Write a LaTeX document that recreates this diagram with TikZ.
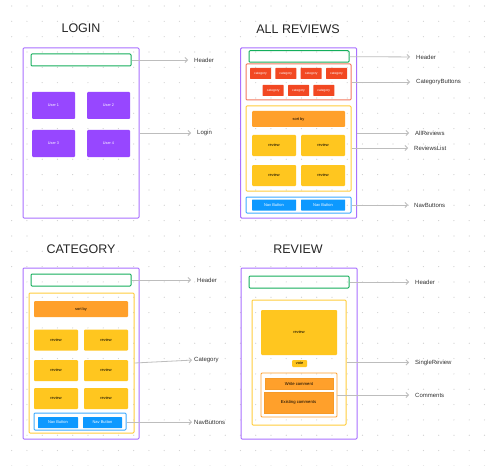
\documentclass[tikz,border=0pt]{standalone}
\usepackage{fontspec}
\setmainfont{Liberation Sans}
\usetikzlibrary{arrows.meta}

\definecolor{framepurple}{HTML}{A970FF}
\definecolor{userpurple}{HTML}{9747FF}
\definecolor{hdrgreen}{HTML}{14AE5C}
\definecolor{catred}{HTML}{F24822}
\definecolor{catline}{HTML}{F3785E}
\definecolor{sortorange}{HTML}{FFA02B}
\definecolor{revyellow}{HTML}{FFC61F}
\definecolor{revline}{HTML}{FFCD3C}
\definecolor{navblue}{HTML}{0D99FF}
\definecolor{navline}{HTML}{3DAAFF}
\definecolor{arrowgray}{HTML}{BDBDBD}
\definecolor{dotgray}{HTML}{CFCFCF}
\definecolor{labeltext}{HTML}{333333}

\begin{document}
\begin{tikzpicture}[x=1pt, y=-1pt]
			%define block styles
			\tikzset{
				title/.style={font=\fontsize{12.5}{14}\selectfont, text=black!85, inner sep=0pt},
				frame/.style={draw=framepurple, line width=1pt, rounded corners=1pt, inner sep=0pt},
				header/.style={draw=hdrgreen, line width=1pt, rounded corners=1pt, inner sep=0pt},
				userbox/.style={fill=userpurple, rounded corners=1pt, text=white, font=\fontsize{3.8}{4}\selectfont, inner sep=0pt},
				catgroup/.style={draw=catline, line width=1pt, rounded corners=1pt, inner sep=0pt},
				catbtn/.style={fill=catred, rounded corners=0.5pt, text=white, font=\fontsize{3.3}{4}\selectfont, inner sep=0pt, minimum width=21pt, minimum height=11pt},
				revgroup/.style={draw=revline, line width=1pt, rounded corners=1pt, inner sep=0pt},
				sortbar/.style={fill=sortorange, rounded corners=1pt, font=\fontsize{3.9}{4}\selectfont, inner sep=0pt, minimum height=16pt},
				reviewbox/.style={fill=revyellow, rounded corners=1pt, font=\fontsize{3.9}{4}\selectfont, inner sep=0pt, minimum width=44pt, minimum height=21pt},
				navgroup/.style={draw=navline, line width=1pt, rounded corners=1pt, inner sep=0pt},
				navbtn/.style={fill=navblue, rounded corners=0.5pt, text=white, font=\fontsize{4}{4}\selectfont, inner sep=0pt, minimum height=11pt},
				comgroup/.style={draw=sortorange, line width=0.8pt, rounded corners=1pt, inner sep=0pt},
				combox/.style={fill=sortorange, draw=sortorange!80!black!20!sortorange, font=\fontsize{4.2}{5}\selectfont, inner sep=0pt},
				label/.style={anchor=west, inner sep=0pt, text=labeltext, font=\fontsize{6}{7}\selectfont},
				arrow/.style={draw=arrowgray, line width=0.8pt, shorten >=6pt, -{Straight Barb[length=2.5pt, width=5pt]}},
			}
			%background and dot grid
			\fill[white] (0,0) rectangle (486,465);
			\useasboundingbox (0,0) rectangle (486,465);
			\foreach \i in {0,...,31}
				\foreach \j in {0,...,30}
					\fill[dotgray] (11.7+15.25*\i, 6+15.33*\j) circle (0.6pt);

			%define nodes: login
			\node[title] (logintitle) at (81,28) {LOGIN};
			\node[frame, minimum width=116pt, minimum height=170pt] (loginframe) at (81,133) {};
			\node[header, minimum width=100pt, minimum height=12pt] (loginheader) at (81,60) {};
			\node[userbox, minimum width=43pt, minimum height=27pt] (user1) at (53.5,105.5) {User 1};
			\node[userbox, minimum width=43pt, minimum height=27pt] (user2) at (108.5,105.5) {User 2};
			\node[userbox, minimum width=43pt, minimum height=27pt] (user3) at (53.5,143.5) {User 3};
			\node[userbox, minimum width=43pt, minimum height=27pt] (user4) at (108.5,143.5) {User 4};
			\node[label] (loginheaderlbl) at (194,60) {Header};
			\node[label] (loginlbl) at (197,133) {Login};

			%define nodes: all reviews
			\node[title] (alltitle) at (298,29) {ALL REVIEWS};
			\node[frame, minimum width=116pt, minimum height=170pt] (allframe) at (298.7,133) {};
			\node[header, minimum width=100pt, minimum height=11.5pt] (allheader) at (299,56.5) {};
			\node[catgroup, minimum width=105pt, minimum height=36pt] (catgroup) at (298.5,82) {};
			\foreach \x [count=\k] in {260.5,285.8,311.2,336.5}
				\node[catbtn] (cat\k) at (\x,73.5) {category};
			\foreach \x [count=\k from 5] in {273.2,298.5,323.8}
				\node[catbtn] (cat\k) at (\x,90.5) {category};
			\node[revgroup, minimum width=105pt, minimum height=85pt] (allreviews) at (298.5,148.5) {};
			\node[sortbar, minimum width=93pt] (allsort) at (298.5,119) {sort by};
			\node[reviewbox] (allrev1) at (274,145.5) {review};
			\node[reviewbox] (allrev2) at (323,145.5) {review};
			\node[reviewbox] (allrev3) at (274,175.5) {review};
			\node[reviewbox] (allrev4) at (323,175.5) {review};
			\node[navgroup, minimum width=105pt, minimum height=16pt] (allnav) at (298.5,205) {};
			\node[navbtn, minimum width=44pt] (allnav1) at (274,205) {Nav Button};
			\node[navbtn, minimum width=44pt] (allnav2) at (323,205) {Nav Button};
			\node[label] (allheaderlbl) at (416,57) {Header};
			\node[label] (catbuttonslbl) at (416,82) {CategoryButtons};
			\node[label] (allreviewslbl) at (415,133) {AllReviews};
			\node[label] (reviewslistlbl) at (414,148) {ReviewsList};
			\node[label] (allnavlbl) at (414,205) {NavButtons};

			%define nodes: category
			\node[title] (cattitle) at (81,249) {CATEGORY};
			\node[frame, minimum width=116pt, minimum height=171pt] (catframe) at (81,353.5) {};
			\node[header, minimum width=100pt, minimum height=12pt] (catheader) at (81,280) {};
			\node[revgroup, minimum width=105pt, minimum height=140pt] (catreviews) at (81.5,363) {};
			\node[sortbar, minimum width=94pt] (catsort) at (81,309) {sort by};
			\foreach \y [count=\k] in {340,370.5,398.5} {
				\node[reviewbox] (catrev\k a) at (56,\y) {review};
				\node[reviewbox] (catrev\k b) at (106,\y) {review};
			}
			\node[navgroup, minimum width=92pt, minimum height=17pt] (catnav) at (80,421.5) {};
			\node[navbtn, minimum width=40pt] (catnav1) at (58,422.5) {Nav Button};
			\node[navbtn, minimum width=39pt] (catnav2) at (102.5,422.5) {Nav Button};
			\node[label] (catheaderlbl) at (197,280) {Header};
			\node[label] (categorylbl) at (194,360) {Category};
			\node[label] (catnavlbl) at (194,422) {NavButtons};

			%define nodes: review
			\node[title] (revtitle) at (298,249) {REVIEW};
			\node[frame, minimum width=116pt, minimum height=171pt] (revframe) at (299,353.5) {};
			\node[header, minimum width=100pt, minimum height=12pt] (revheader) at (299,282) {};
			\node[revgroup, minimum width=94pt, minimum height=125pt] (single) at (299,362.5) {};
			\node[reviewbox, minimum width=76pt, minimum height=45pt] (singlerev) at (299,332.5) {review};
			\node[reviewbox, minimum width=15pt, minimum height=7pt] (vote) at (299.5,363.5) {vote};
			\node[comgroup, minimum width=76pt, minimum height=44pt] (comments) at (299,395) {};
			\node[combox, minimum width=68pt, minimum height=11pt] (writecom) at (299,383.5) {Write comment};
			\node[combox, minimum width=69pt, minimum height=21pt] (existcom) at (298.5,402.5) {Existing comments};
			\node[label] (revheaderlbl) at (415,282) {Header};
			\node[label] (singlelbl) at (415,362.5) {SingleReview};
			\node[label] (commentslbl) at (415,395) {Comments};

			%define arrows
			\draw[arrow] (loginheader) -- (loginheaderlbl);
			\draw[arrow] (loginframe) -- (loginlbl);
			\draw[arrow] (allheader) -- (allheaderlbl);
			\draw[arrow] (catgroup) -- (catbuttonslbl);
			\draw[arrow] (allframe) -- (allreviewslbl);
			\draw[arrow] (allreviews.east |- reviewslistlbl) -- (reviewslistlbl);
			\draw[arrow] (allnav) -- (allnavlbl);
			\draw[arrow] (catheader) -- (catheaderlbl);
			\draw[arrow, shorten >=2pt] (catreviews.east) -- (categorylbl.west);
			\draw[arrow, shorten >=2pt] (catnav.east |- catnavlbl) -- (catnavlbl);
			\draw[arrow] (revheader) -- (revheaderlbl);
			\draw[arrow] (single) -- (singlelbl);
			\draw[arrow] (comments) -- (commentslbl);
		\end{tikzpicture}
\end{document}
